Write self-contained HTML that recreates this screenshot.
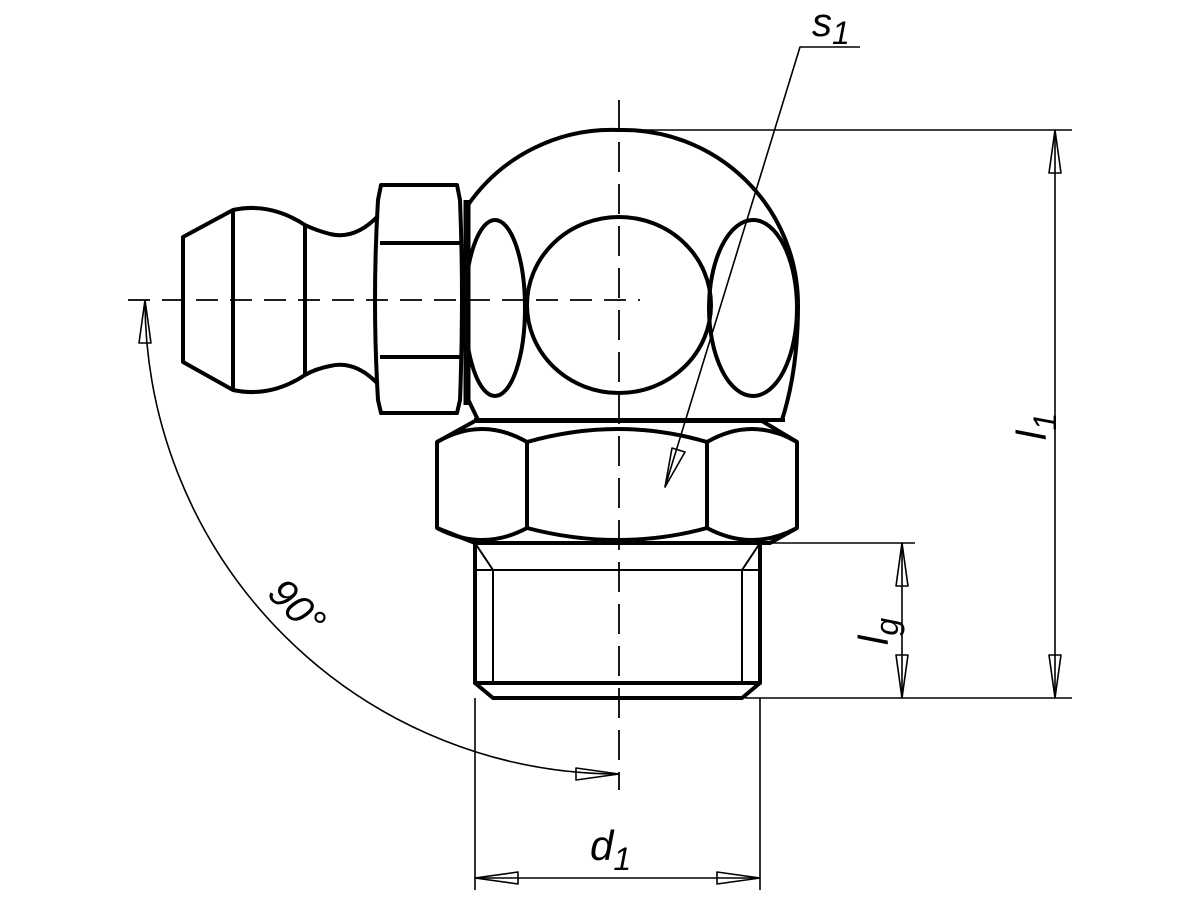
<!DOCTYPE html>
<html><head><meta charset="utf-8"><style>html,body{margin:0;padding:0;background:#fff}svg{display:block}text{font-family:"Liberation Sans",sans-serif;font-style:italic}</style></head>
<body>
<svg width="1200" height="900" viewBox="0 0 1200 900" xmlns="http://www.w3.org/2000/svg">
<g fill="none" stroke="#000" stroke-linejoin="round">
<g stroke-width="1.8">
<line x1="619" y1="100" x2="619" y2="790" stroke-dasharray="30,12"/>
<line x1="128" y1="300" x2="640" y2="300" stroke-dasharray="22,12"/>
</g>
<g stroke-width="4">
<path d="M468,205 A175,175 0 0 1 619,130 A175,175 0 0 1 798,305 Q798,370 782,420"/>
<path d="M466,395 L478,420"/>
<line x1="474" y1="420" x2="785" y2="420"/>
<ellipse cx="619" cy="305" rx="92" ry="88"/>
<ellipse cx="495" cy="308" rx="30" ry="88"/>
<ellipse cx="753" cy="308" rx="44" ry="88"/>
<line x1="467" y1="200" x2="467" y2="405" stroke-width="7"/>
<path d="M381,185 L457,185 L460,200 Q464,300 460,400 L457,413 L381,413 L378,400 Q372,300 378,200 Z"/>
<line x1="380" y1="243" x2="462" y2="243"/>
<line x1="380" y1="357" x2="462" y2="357"/>
<path d="M378,216 Q355,240 330,234 Q315,230 305,225 Q270,202 233,210 L183,237 L183,362 L233,390 Q270,398 305,375 Q315,369 330,366 Q355,360 378,384"/>
<line x1="233" y1="210" x2="233" y2="390"/>
<line x1="305" y1="226" x2="305" y2="374"/>
<path d="M437,442 L475,421 L762,421 L797,442 L797,528 L770,543 L475,543 L437,528 Z"/>
<line x1="527" y1="442" x2="527" y2="528"/>
<line x1="707" y1="442" x2="707" y2="528"/>
<path d="M437,442 Q482,416 527,442 Q619,416 707,442 Q752,416 797,442"/>
<path d="M437,528 Q482,552 527,528 Q619,552 707,528 Q752,552 797,528"/>
<path d="M475,543 L475,683 L760,683 L760,543"/>
<path d="M475,683 L493,698 L742,698 L760,683"/>
</g>
<g stroke-width="2">
<line x1="475" y1="570" x2="760" y2="570"/>
<line x1="493" y1="570" x2="493" y2="683"/>
<line x1="742" y1="570" x2="742" y2="683"/>
<line x1="475" y1="543" x2="493" y2="570"/>
<line x1="760" y1="543" x2="742" y2="570"/>
</g>
<g stroke-width="1.6">
<line x1="619" y1="130" x2="1072" y2="130"/>
<line x1="745" y1="698" x2="1072" y2="698"/>
<line x1="1055" y1="130" x2="1055" y2="698"/>
<path d="M1055,130 L1049,173 L1061,173 Z"/>
<path d="M1055,698 L1049,655 L1061,655 Z"/>
<line x1="760" y1="543" x2="915" y2="543"/>
<line x1="902" y1="543" x2="902" y2="698"/>
<path d="M902,543 L896,586 L908,586 Z"/>
<path d="M902,698 L896,655 L908,655 Z"/>
<line x1="475" y1="698" x2="475" y2="890"/>
<line x1="760" y1="698" x2="760" y2="890"/>
<line x1="475" y1="878" x2="760" y2="878"/>
<path d="M475,878 L518,872 L518,884 Z"/>
<path d="M760,878 L717,872 L717,884 Z"/>
<polyline points="860,47 800,47 665,487"/>
<path d="M665,487 L672,448 L685,452 Z"/>
<path d="M145,300 A474,474 0 0 0 619,774"/>
<path d="M145,300 L139,343 L151,343 Z"/>
<path d="M619,774 L576,768 L576,780 Z"/>
</g>
</g>
<g fill="#000">
<text x="812" y="36" font-size="40">s<tspan font-size="32" dy="8">1</tspan></text>
<text x="590" y="860" font-size="42">d<tspan font-size="32" dy="10">1</tspan></text>
<text transform="translate(1046,440) rotate(-90)" font-size="42">l<tspan font-size="32" dy="10">1</tspan></text>
<text transform="translate(888,645) rotate(-90)" font-size="42">l<tspan font-size="32" dy="10">g</tspan></text>
<text transform="translate(266,595) rotate(45)" font-size="40">90°</text>
</g>
</svg>
</body></html>
